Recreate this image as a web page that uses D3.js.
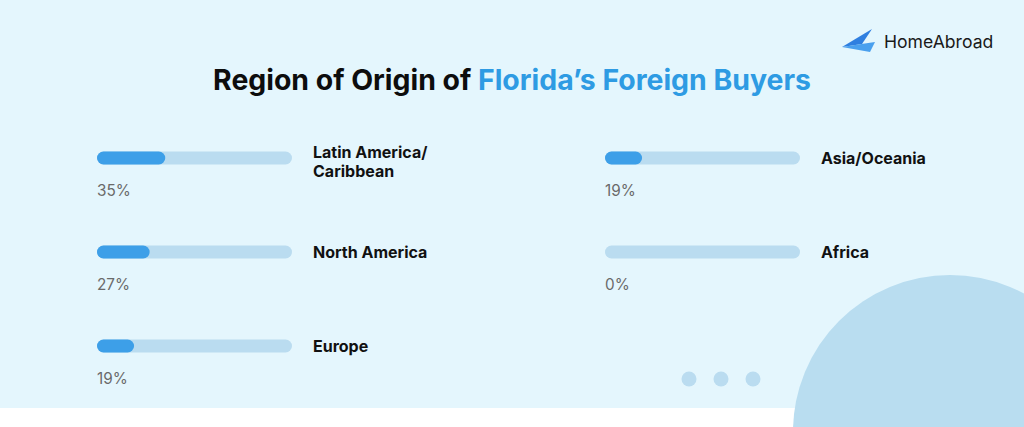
<!DOCTYPE html>
<html><head><meta charset="utf-8">
<script src="https://cdn.jsdelivr.net/npm/d3@7"></script>
<style>html,body{margin:0;padding:0;background:#e4f6fd;}svg{display:block;}</style>
</head><body>
<svg id="c" width="1024" height="427"></svg>
<script>
const categories = ["Latin America/\nCaribbean", "North America", "Europe", "Asia/Oceania", "Africa"];
const values = [35, 27, 19, 19, 0];
const columns = [0, 0, 0, 1, 1];
const rows = [0, 1, 2, 0, 1];
const titleParts = ["Region of Origin of ", "Florida’s Foreign Buyers"];
const brand = "HomeAbroad";

const svg = d3.select("#c");
const W = 1024, H = 427;
svg.append("rect").attr("width", W).attr("height", H).attr("fill", "#e4f6fd");
svg.append("rect").attr("x", 0).attr("y", 408).attr("width", W).attr("height", H - 408).attr("fill", "#ffffff");
svg.append("circle").attr("cx", 950).attr("cy", 432).attr("r", 157).attr("fill", "#b9ddf0");
[689, 721, 753].forEach(cx => svg.append("circle").attr("cx", cx).attr("cy", 379).attr("r", 7.5).attr("fill", "#badcf0"));

// title
const t = svg.append("text").attr("x", 512).attr("y", 90).attr("text-anchor", "middle")
  .attr("font-family", "Inter, Roboto, sans-serif").attr("font-weight", 700).attr("font-size", 28.4);
t.append("tspan").attr("fill", "#0d0d0d").text(titleParts[0]);
t.append("tspan").attr("fill", "#2e9be3").text(titleParts[1]);

// logo
const lg = svg.append("g");
lg.append("path").attr("d", "M842,47 L872,29 L862,44 Z").attr("fill", "#2f7fe0");
lg.append("path").attr("d", "M842,47 L875,42 L870,52 Z").attr("fill", "#4aa0ee");
lg.append("path").attr("d", "M842,47 L862,44 L875,42 Z").attr("fill", "#1f5fc9");
lg.append("text").attr("x", 884).attr("y", 48).attr("font-family", "Inter, Roboto, sans-serif")
  .attr("font-size", 17.6).attr("fill", "#1a1a1a").text(brand);

// scales
const colX = d3.scaleOrdinal().domain([0, 1]).range([97, 605]);
const rowY = d3.scaleOrdinal().domain([0, 1, 2]).range([158, 252, 346]);
const x = d3.scaleLinear().domain([0, 100]).range([0, 195]);
const bh = 13;

const g = svg.selectAll("g.item").data(categories.map((c, i) => ({c, v: values[i], col: columns[i], row: rows[i]})))
  .enter().append("g").attr("class", "item")
  .attr("transform", d => `translate(${colX(d.col)},${rowY(d.row)})`);
g.append("rect").attr("x", 0).attr("y", -bh / 2).attr("width", x(100)).attr("height", bh)
  .attr("rx", bh / 2).attr("fill", "#badcf0");
g.filter(d => d.v > 0).append("rect").attr("x", 0).attr("y", -bh / 2).attr("width", d => x(d.v)).attr("height", bh)
  .attr("rx", bh / 2).attr("fill", "#3d9fe8");
g.append("text").attr("x", 0).attr("y", 38).attr("font-family", "Inter, Roboto, sans-serif")
  .attr("font-size", 15.3).attr("fill", "#6a6a6a").text(d => d.v + "%");
g.each(function(d) {
  const lines = d.c.split("\n");
  const tx = d3.select(this).append("text").attr("x", 216)
    .attr("font-family", "Inter, Roboto, sans-serif").attr("font-weight", 700).attr("font-size", 16).attr("fill", "#111");
  const y0 = lines.length > 1 ? 0 : 6;
  lines.forEach((l, i) => tx.append("tspan").attr("x", 216).attr("y", y0 + i * 18.5).text(l));
});
</script>
</body></html>
